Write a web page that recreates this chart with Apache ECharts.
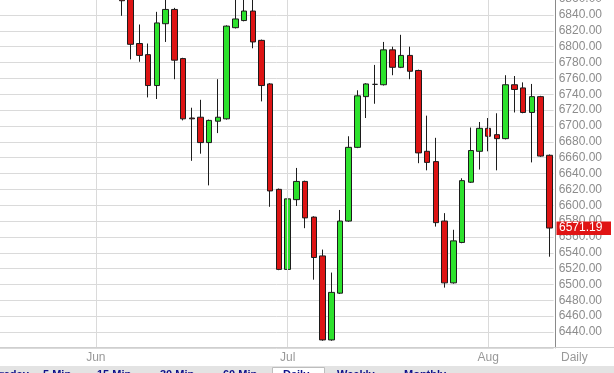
<!DOCTYPE html>
<html><head><meta charset="utf-8">
<script src="https://cdn.jsdelivr.net/npm/echarts@6/dist/echarts.min.js"></script>
<style>html,body{margin:0;padding:0;background:#fff;overflow:hidden}#c{width:614px;height:373px}</style>
</head><body><div id="c"></div>
<script>
// trading days shown on the category axis
const categories = [
  '2015-05-14','2015-05-15','2015-05-18','2015-05-19','2015-05-20','2015-05-21','2015-05-22','2015-05-26','2015-05-27','2015-05-28','2015-05-29',
  '2015-06-01','2015-06-02','2015-06-03','2015-06-04','2015-06-05','2015-06-08','2015-06-09','2015-06-10','2015-06-11','2015-06-12',
  '2015-06-15','2015-06-16','2015-06-17','2015-06-18','2015-06-19','2015-06-22','2015-06-23','2015-06-24','2015-06-25','2015-06-26',
  '2015-06-29','2015-06-30',
  '2015-07-01','2015-07-02','2015-07-03','2015-07-06','2015-07-07','2015-07-08','2015-07-09','2015-07-10','2015-07-13','2015-07-14',
  '2015-07-15','2015-07-16','2015-07-17','2015-07-20','2015-07-21','2015-07-22','2015-07-23','2015-07-24','2015-07-27','2015-07-28',
  '2015-07-29','2015-07-30','2015-07-31',
  '2015-08-03','2015-08-04','2015-08-05','2015-08-06','2015-08-07','2015-08-10','2015-08-11','2015-08-12'
];
const monthLabels = ['Jun', 'Jul', 'Aug'];
const monthStarts = ['2015-06-01', '2015-07-01', '2015-08-03'];
const firstCandleDay = '2015-06-04';

// candles from 2015-06-04 to 2015-08-12
const opens  = [6872,6866,6804,6790,6751,6829,6847,6785,6710,6711,6679,6706,6709,6824,6833,6845,6808,6753,6620,6519,
                6607,6630,6585,6536,6430,6489,6580,6673,6737,6752.5,6752,6796,6774,6789,6770,6668,6655,6580,6502,6553,
                6629,6668,6697,6689,6684,6752,6748,6717,6737,6663];
const closes = [6858,6803,6789,6751,6830,6847,6783,6709,6709,6679,6707,6711,6826,6835,6845,6806,6751,6618,6519,6608,
                6630,6584,6534,6430,6490,6580,6673,6738,6753,6752.5,6796,6774,6789,6769,6666,6654,6578,6502,6555,6631,
                6669,6697,6687,6684,6752,6746,6717,6737,6662,6571.19];
const lows   = [6839,6784,6781,6736,6734,6806,6759,6707,6656,6665,6625,6691,6708,6823,6832,6798,6731,6598,6518,6518,
                6599,6571,6506,6429,6429,6488,6579,6672,6710,6728,6751,6764,6773,6759,6653,6644,6573,6496,6501,6552,
                6628,6645,6668,6644,6683,6717,6716,6654,6661,6535];
const highs  = [6878,6870,6828,6804,6844,6866,6849,6786,6723,6733,6708,6759,6827,6866,6868,6866,6809,6754,6621,6638,
                6647,6631,6586,6544,6515,6594,6687,6745,6754,6777,6806,6800,6815,6800,6771,6713,6685,6590,6569,6634,
                6698,6705,6710,6716,6764,6763,6755,6753,6738,6664];

const toolbarItems = ['Intraday', '5 Min', '15 Min', '30 Min', '60 Min', 'Daily', 'Weekly', 'Monthly'];
const toolbarX     = [-14, 43, 97, 160, 223, 283, 337, 404];

const start = categories.indexOf(firstCandleDay);
const seriesData = categories.map((d, i) => {
  const j = i - start;
  if (j < 0 || j >= opens.length) return ['-', '-', '-', '-'];
  return [opens[j], closes[j], lows[j], highs[j]];
});
const lastClose = closes[closes.length - 1];

const FONT = 'Liberation Sans, Arial, sans-serif';
const chart = echarts.init(document.getElementById('c'), null, { renderer: 'canvas' });
chart.setOption({
  animation: false,
  backgroundColor: '#fff',
  grid: { right: 60.36, width: 558.08, bottom: 25.15, height: 364.55, containLabel: false, outerBoundsMode: 'none' },
  xAxis: {
    type: 'category',
    data: categories,
    boundaryGap: true,
    axisLine: { show: false },
    axisTick: { show: false },
    splitLine: { show: false },
    axisLabel: {
      interval: (idx, val) => monthStarts.indexOf(val) >= 0,
      formatter: (val) => monthLabels[monthStarts.indexOf(val)] || '',
      color: '#999', fontFamily: FONT, fontSize: 12, margin: 4
    }
  },
  yAxis: {
    type: 'value',
    position: 'right',
    offset: 2,
    min: 6420, max: 6880, interval: 20,
    scale: true,
    axisLine: { show: true, lineStyle: { color: '#8a8a8a', width: 1 } },
    axisTick: { show: false },
    splitLine: { show: true, lineStyle: { color: '#dadada', width: 1 } },
    axisLabel: {
      showMinLabel: false,
      formatter: v => v.toFixed(2),
      color: '#8c8c8c', fontFamily: FONT, fontSize: 12, margin: 3
    }
  },
  series: [
    {
      type: 'line', data: [], z: 1, silent: true,
      markLine: {
        silent: true, symbol: ['none', 'none'], label: { show: false },
        lineStyle: { color: '#dadada', width: 1, type: 'solid' },
        data: monthStarts.map(m => ({ xAxis: m }))
      }
    },
    {
      type: 'candlestick', z: 3,
      data: seriesData,
      barWidth: 6,
      itemStyle: {
        color: '#2de22d', color0: '#dd1414',
        borderColor: '#1c1c1c', borderColor0: '#1c1c1c', borderWidth: 1
      }
    }
  ]
});

const py = chart.convertToPixel({ yAxisIndex: 0 }, lastClose);
const graphics = [
  { type: 'line', shape: { x1: 0, y1: 347.5, x2: 614, y2: 347.5 }, style: { stroke: '#cfcfcf', lineWidth: 1 }, z: 10 },
  { type: 'text', x: 561, y: 358, style: { text: 'Daily', fill: '#999', font: '12px ' + FONT, verticalAlign: 'middle' }, z: 10 },
  { type: 'rect', shape: { x: 556.5, y: py - 6.5, width: 54.5, height: 13.5 }, style: { fill: '#e01414' }, z: 20 },
  { type: 'text', x: 559, y: py, style: { text: lastClose.toFixed(2), fill: '#fff', font: '12px ' + FONT, verticalAlign: 'middle' }, z: 21 },
  { type: 'rect', shape: { x: 0, y: 366, width: 614, height: 7 }, style: { fill: '#e3e3e3' }, z: 10 },
  { type: 'rect', shape: { x: 272.5, y: 367.5, width: 52, height: 10 }, style: { fill: '#fff', stroke: '#bdbdbd', lineWidth: 1 }, z: 11 }
];
toolbarItems.forEach((t, i) => {
  graphics.push({ type: 'text', x: toolbarX[i], y: 369, style: { text: t, fill: '#10108a', font: 'bold 11px ' + FONT, verticalAlign: 'top' }, z: 12 });
});
chart.setOption({ graphic: graphics });
</script>
</body></html>
